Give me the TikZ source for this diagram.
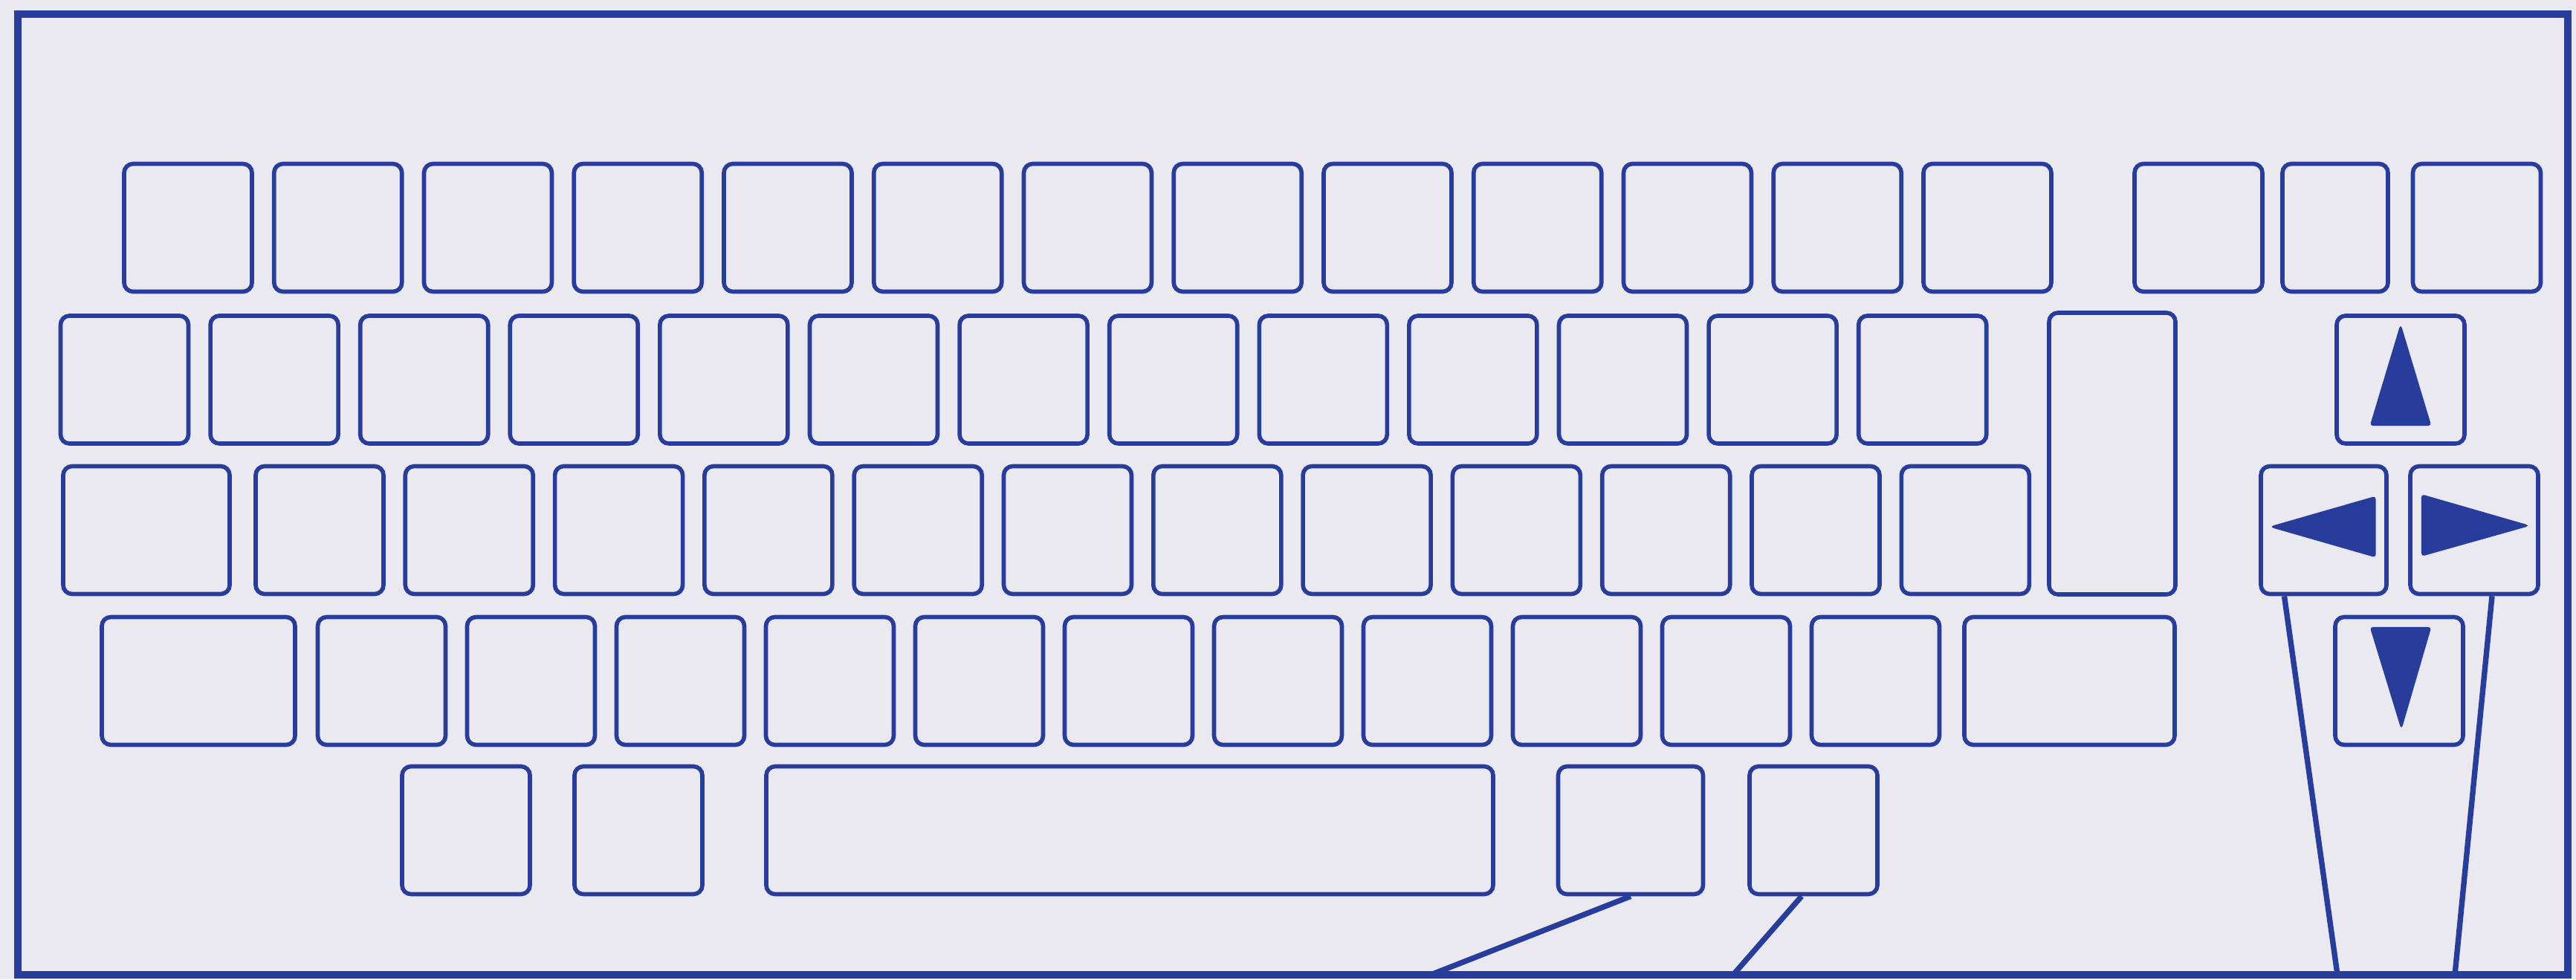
\documentclass[tikz,border=0pt]{standalone}
\usepackage{xcolor}
\usepackage{tikz}
\definecolor{ink}{RGB}{40,60,155}
\definecolor{paper}{RGB}{234,233,239}

\begin{document}
\begin{tikzpicture}[
  key/.style={draw=ink, line width=1.6pt, rounded corners=0.12cm,
              minimum width=1.72cm, minimum height=1.72cm, inner sep=0pt},
  frame/.style={draw=ink, line width=2.8pt},
  lead/.style={draw=ink, line width=2.1pt},
  tip/.style={fill=ink, draw=ink, line width=0.6pt, rounded corners=0.03cm}
]
\useasboundingbox[fill=paper] (0,0) rectangle (34.66,13.18);
\draw[frame] (0.24,0.06) rectangle (34.55,12.99);

\foreach \i in {0,...,12}
  \node[key] (f\i) at ({2.53+2.0175*\i},10.115) {};
\node[key] (ins) at (29.58,10.115) {};
\node[key, minimum width=1.42cm] (home) at (31.42,10.115) {};
\node[key] (pgup) at (33.325,10.115) {};

\foreach \i in {0,...,12}
  \node[key] (a\i) at ({1.675+2.016*\i},8.07) {};
\node[key, minimum width=1.70cm, minimum height=3.79cm] (enter) at (28.42,7.075) {};
\node[key] (up) at (32.30,8.07) {};

\node[key, minimum width=2.24cm] (b0) at (1.97,6.045) {};
\foreach \i in {1,...,12}
  \node[key] (b\i) at ({4.30+2.013*(\i-1)},6.045) {};
\node[key, minimum width=1.69cm] (left) at (31.265,6.045) {};
\node[key] (right) at (33.29,6.045) {};

\node[key, minimum width=2.60cm] (c0) at (2.67,4.015) {};
\foreach \i in {1,...,11}
  \node[key] (c\i) at ({5.135+2.01*(\i-1)},4.015) {};
\node[key, minimum width=2.83cm] (c12) at (27.845,4.015) {};
\node[key] (down) at (32.28,4.015) {};

\node[key] (lctrl) at (6.27,2.005) {};
\node[key] (lalt) at (8.59,2.005) {};
\node[key, minimum width=9.78cm] (space) at (15.20,2.005) {};
\node[key, minimum width=1.95cm] (ralt) at (21.94,2.005) {};
\node[key] (rctrl) at (24.40,2.005) {};

\fill[tip] (up.center) ++(0.00,0.72) -- ++(-0.40,-1.33) -- ++(0.80,0) -- cycle;
\fill[tip] (down.center) ++(-0.38,0.715) -- ++(0.80,0) -- ++(-0.39,-1.34) -- cycle;
\fill[tip] (left.center) ++(-0.70,0.045) -- ++(1.39,0.40) -- ++(0,-0.80) -- cycle;
\fill[tip] (right.center) ++(0.72,0.06) -- ++(-1.42,0.41) -- ++(0,-0.81) -- cycle;

\coordinate (p1) at (19.25,0.06);
\coordinate (p2) at (23.32,0.06);
\coordinate (p3) at (31.45,0.06);
\coordinate (p4) at (33.03,0.06);

\draw[lead] (ralt.south) -- (p1);
\draw[lead] ([xshift=-0.16cm]rctrl.south) -- (p2);
\draw[lead] ([xshift=-0.53cm]left.south) -- (p3);
\draw[lead] ([xshift=0.24cm]right.south) -- (p4);
\end{tikzpicture}
\end{document}
